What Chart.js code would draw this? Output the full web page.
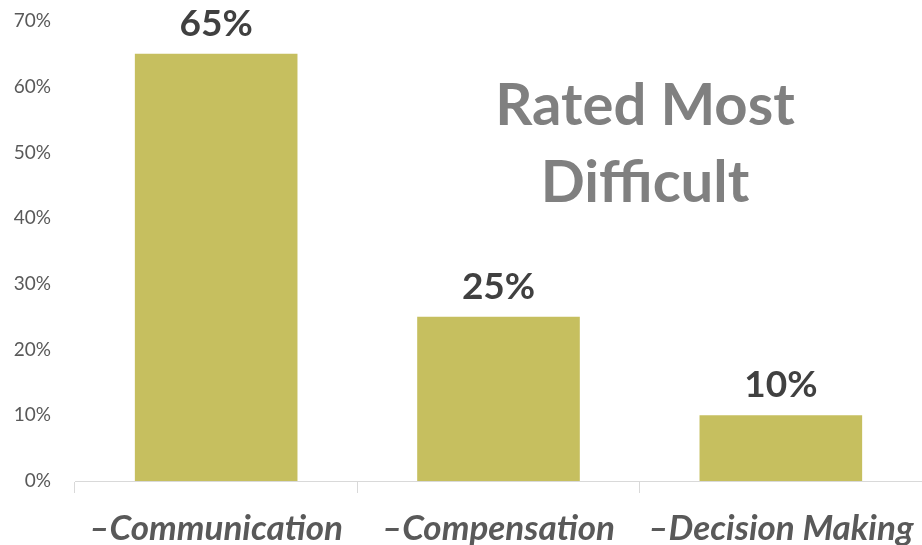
<!DOCTYPE html>
<html>
<head>
<meta charset="utf-8">
<script src="https://cdn.jsdelivr.net/npm/chart.js@4"></script>
<style>
  html, body { margin: 0; padding: 0; background: #fff; }
  #wrap { width: 922px; height: 545px; position: relative; }
</style>
</head>
<body>
<div id="wrap"><canvas id="chart"></canvas></div>
<script>
const categories = ["–Communication", "–Compensation", "–Decision Making"];
const ratedMostDifficult = [0.65, 0.25, 0.10];
const yTicks = [0, 0.1, 0.2, 0.3, 0.4, 0.5, 0.6, 0.7];
const titleLines = ["Rated Most", "Difficult"];

const FONT = "Lato, 'Open Sans', sans-serif";

// labels above bars + the inner title
const overlay = {
    id: "overlay",
    afterDatasetsDraw(chart) {
        const ctx = chart.ctx;
        const meta = chart.getDatasetMeta(0);
        ctx.save();
        ctx.fillStyle = "#404040";
        ctx.font = "bold 37px " + FONT;
        ctx.textAlign = "center";
        ctx.textBaseline = "alphabetic";
        meta.data.forEach((bar, i) => {
            ctx.fillText(Math.round(ratedMostDifficult[i] * 100) + "%", bar.x, bar.y - 18);
        });

        ctx.fillStyle = "#808080";
        ctx.font = "bold 58px " + FONT;
        ctx.fillText(titleLines[0], 645, 125);
        ctx.fillText(titleLines[1], 645, 202);
        ctx.restore();
    }
};

new Chart(document.getElementById("chart"), {
    type: "bar",
    data: {
        labels: categories,
        datasets: [{
            data: ratedMostDifficult,
            backgroundColor: "#C6BF5F",
            categoryPercentage: 1,
            barPercentage: 0.576,
        }],
    },
    options: {
        responsive: true,
        maintainAspectRatio: false,
        animation: false,
        layout: { padding: { top: 21, right: 0, left: 0, bottom: 0 } },
        plugins: {
            legend: { display: false },
            tooltip: { enabled: false },
        },
        scales: {
            x: {
                grid: {
                    display: true,
                    offset: true,
                    drawOnChartArea: false,
                    drawTicks: true,
                    tickLength: 12,
                    color: "#D9D9D9",
                },
                border: { display: true, color: "#D9D9D9" },
                ticks: {
                    color: "#595959",
                    font: { family: FONT, size: 35, weight: "bold", style: "italic" },
                    padding: 15,
                    maxRotation: 0,
                },
                afterFit(scale) {
                    scale.height = 64;
                    scale.paddingLeft = 0;
                    scale.paddingRight = 0;
                },
            },
            y: {
                min: 0,
                max: 0.7,
                afterBuildTicks(scale) {
                    scale.ticks = yTicks.map(v => ({ value: v }));
                },
                grid: { display: false },
                border: { display: false },
                ticks: {
                    color: "#595959",
                    font: { family: FONT, size: 19 },
                    padding: 16,
                    callback: v => Math.round(v * 100) + "%",
                },
                afterFit(scale) {
                    scale.width = 75;
                    scale.paddingTop = 0;
                    scale.paddingBottom = 0;
                },
            },
        },
    },
    plugins: [overlay],
});
</script>
</body>
</html>
